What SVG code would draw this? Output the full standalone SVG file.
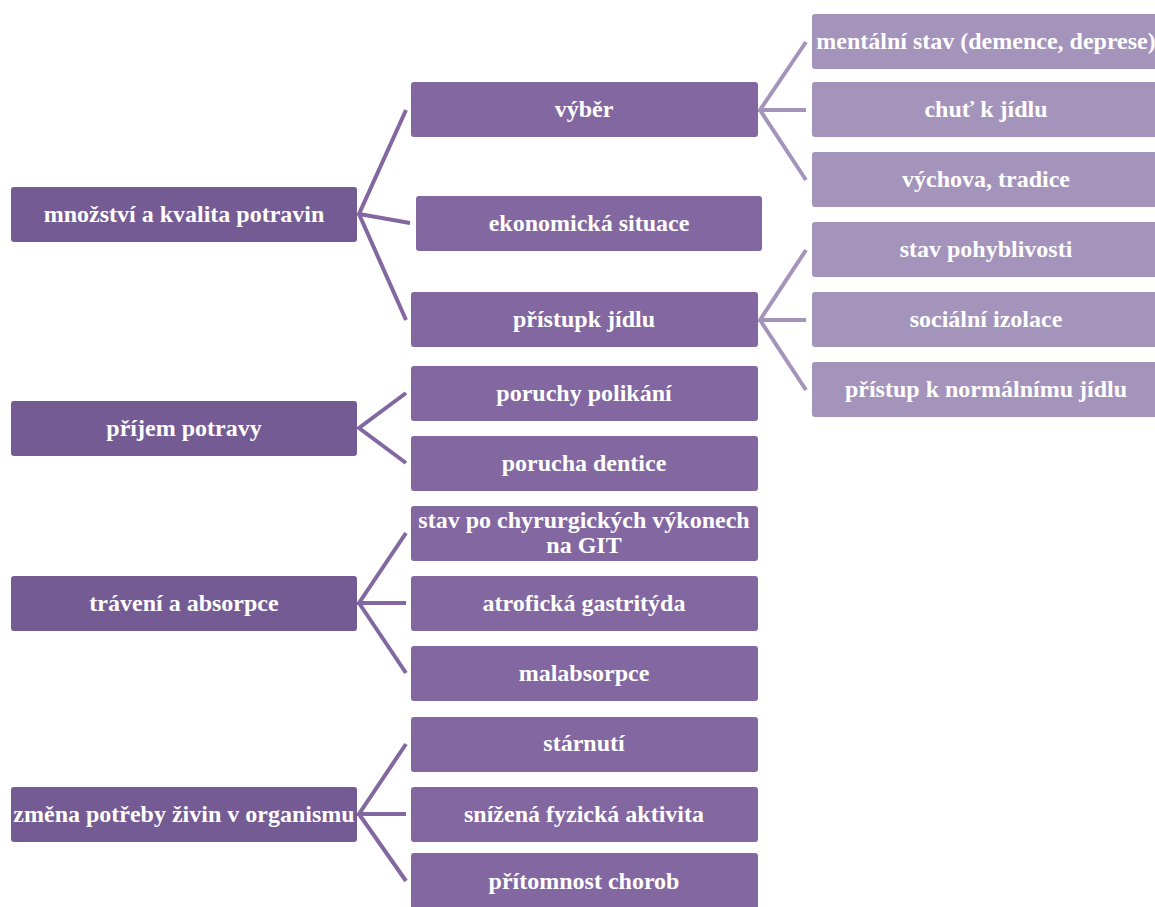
<svg xmlns="http://www.w3.org/2000/svg" width="1155" height="907" viewBox="0 0 1155 907">
<style>
.l{fill:#745b93}
.m{fill:#8267a1}
.r{fill:#a494bb}
text{font-family:"Liberation Serif","Times New Roman",serif;font-weight:bold;font-size:24px;fill:#ffffff;text-anchor:middle}
.c1{stroke:#8267a1;stroke-width:4;fill:none;stroke-linejoin:miter}
.c2{stroke:#a494bb;stroke-width:4;fill:none}
</style>
<rect width="1155" height="907" fill="#ffffff"/>
<g id="connectors">
<path class="c1" d="M406,110 L359,214 L410,223 M359,214 L406,320"/>
<path class="c1" d="M406,393 L359,428 L406,463"/>
<path class="c1" d="M406,533 L359,603 L406,603 M359,603 L406,673"/>
<path class="c1" d="M406,744 L359,814 L406,814 M359,814 L406,881"/>
<path class="c2" d="M806,42 L760,110 L806,110 M760,110 L806,180"/>
<path class="c2" d="M806,250 L760,320 L806,320 M760,320 L806,390"/>
</g>
<g id="n_mnozstvi"><rect class="l" x="11" y="187" width="346" height="55" rx="3"/><text x="184" y="222">množství a kvalita potravin</text></g>
<g id="n_prijem"><rect class="l" x="11" y="401" width="346" height="55" rx="3"/><text x="184" y="436">příjem potravy</text></g>
<g id="n_traveni"><rect class="l" x="11" y="576" width="346" height="55" rx="3"/><text x="184" y="611">trávení a absorpce</text></g>
<g id="n_zmena"><rect class="l" x="11" y="787" width="346" height="55" rx="3"/><text x="184" y="822">změna potřeby živin v organismu</text></g>
<g id="n_vyber"><rect class="m" x="411" y="82" width="347" height="55" rx="3"/><text x="584" y="117">výběr</text></g>
<g id="n_ekonom"><rect class="m" x="416" y="196" width="346" height="55" rx="3"/><text x="589" y="231">ekonomická situace</text></g>
<g id="n_pristupk"><rect class="m" x="411" y="292" width="347" height="55" rx="3"/><text x="584" y="327">přístupk jídlu</text></g>
<g id="n_polikani"><rect class="m" x="411" y="366" width="347" height="55" rx="3"/><text x="584" y="401">poruchy polikání</text></g>
<g id="n_dentice"><rect class="m" x="411" y="436" width="347" height="55" rx="3"/><text x="584" y="471">porucha dentice</text></g>
<g id="n_chyrurg"><rect class="m" x="411" y="506" width="347" height="55" rx="3"/><text x="584" y="528">stav po chyrurgických výkonech</text><text x="584" y="553">na GIT</text></g>
<g id="n_atrof"><rect class="m" x="411" y="576" width="347" height="55" rx="3"/><text x="584" y="611">atrofická gastritýda</text></g>
<g id="n_malabs"><rect class="m" x="411" y="646" width="347" height="55" rx="3"/><text x="584" y="681">malabsorpce</text></g>
<g id="n_starnuti"><rect class="m" x="411" y="717" width="347" height="55" rx="3"/><text x="584" y="751">stárnutí</text></g>
<g id="n_snizena"><rect class="m" x="411" y="787" width="347" height="55" rx="3"/><text x="584" y="822">snížená fyzická aktivita</text></g>
<g id="n_pritomnost"><rect class="m" x="411" y="853" width="347" height="60" rx="3"/><text x="584" y="889">přítomnost chorob</text></g>
<g id="n_mentalni"><rect class="r" x="812" y="14" width="350" height="55" rx="3"/><text x="986" y="49">mentální stav (demence, deprese)</text></g>
<g id="n_chut"><rect class="r" x="812" y="82" width="350" height="55" rx="3"/><text x="986" y="117">chuť k jídlu</text></g>
<g id="n_vychova"><rect class="r" x="812" y="152" width="350" height="55" rx="3"/><text x="986" y="187">výchova, tradice</text></g>
<g id="n_pohyb"><rect class="r" x="812" y="222" width="350" height="55" rx="3"/><text x="986" y="257">stav pohyblivosti</text></g>
<g id="n_izolace"><rect class="r" x="812" y="292" width="350" height="55" rx="3"/><text x="986" y="327">sociální izolace</text></g>
<g id="n_normal"><rect class="r" x="812" y="362" width="350" height="55" rx="3"/><text x="986" y="397">přístup k normálnímu jídlu</text></g>
</svg>
